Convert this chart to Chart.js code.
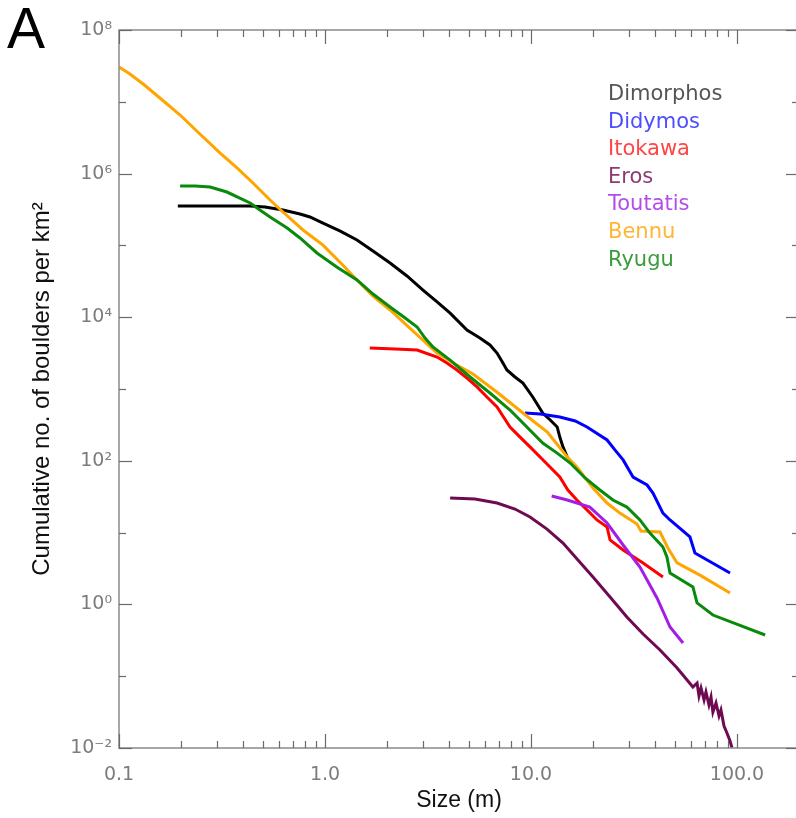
<!DOCTYPE html>
<html>
<head>
<meta charset="utf-8">
<script src="https://cdn.jsdelivr.net/npm/chart.js@4.4.1/dist/chart.umd.min.js"></script>
<style>
    html, body { margin: 0; padding: 0; background: #fff; overflow: hidden; }
    #wrap { position: absolute; left: 0; top: 0; width: 804px; height: 818px; }
    #panel { position: absolute; left: 7px; top: 0; font: 57px/57px "Liberation Sans", Arial, sans-serif; color: #000; }
</style>
</head>
<body>
<div id="wrap">
    <canvas id="sfdChart" width="804" height="818"></canvas>
    <div id="panel">A</div>
</div>
<script>
// boulder size (m) vs cumulative number per km^2
const dimorphosSize  = [0.193, 0.433, 0.512, 0.625, 0.756, 0.845, 0.978, 1.18, 1.43, 1.71, 2.07, 2.50, 2.99, 3.50, 4.05, 4.89,
                        5.65, 6.32, 6.84, 7.31, 7.64, 8.36, 9.14, 10.2, 11.4, 12.4, 13.4, 13.8, 14.3, 15.0];
const dimorphosCount = [3.54e5, 3.54e5, 3.43e5, 3.11e5, 2.74e5, 2.49e5, 2.05e5, 1.59e5, 1.19e5, 8.36e4, 5.69e4, 3.75e4, 2.39e4, 1.63e4, 1.14e4, 6.63e3,
                        5.13e3, 4.10e3, 3.17e3, 2.30e3, 1.84e3, 1.47e3, 1.21e3, 774, 463, 370, 296, 214, 156, 113];

const didymosSize  = [9.35, 11.1, 13.8, 16.4, 18.7, 23.4, 25.6, 28.0, 31.3, 36.6, 39.1, 43.7, 47.3, 59.1, 62.5, 92.5];
const didymosCount = [463, 449, 407, 358, 296, 195, 141, 103, 59.4, 46.0, 35.6, 18.7, 15.0, 8.69, 5.20, 2.74];

const itokawaSize  = [1.65, 2.19, 2.80, 3.50, 3.91, 4.37, 4.89, 5.47, 6.11, 6.84, 7.91, 8.85, 9.89, 11.7, 13.8, 15.1,
                      16.7, 18.7, 20.9, 23.4, 24.2, 28.0, 35.0, 43.7];
const itokawaCount = [3.72e3, 3.61e3, 3.49e3, 2.79e3, 2.30e3, 1.84e3, 1.42e3, 1.07e3, 774, 561, 296, 214, 156, 96.2, 59.4, 39.2,
                      28.4, 20.7, 15.0, 12.0, 7.89, 5.73, 3.78, 2.41];

const erosSize  = [4.05, 5.35, 6.84, 8.36, 9.89, 11.96, 14.3, 16.9, 20.0, 24.2, 29.2, 35.0, 42.3, 51.2, 61.1,
                   64.0, 65.4, 66.9, 69.2, 70.7, 73.1, 74.8, 76.4, 79.1, 81.8, 83.6, 86.5, 89.4, 92.5, 94.6];
const erosCount = [30.3, 29.4, 25.8, 21.3, 16.5, 11.2, 7.16, 4.15, 2.41, 1.27, 0.668, 0.387, 0.232, 0.130, 0.0708,
                   0.0804, 0.0530, 0.0685, 0.0467, 0.0603, 0.0397, 0.0513, 0.0317, 0.0424, 0.0279, 0.0338, 0.0202, 0.0162, 0.0125, 0.0100];

const toutatisSize  = [12.6, 15.0, 19.3, 23.4, 28.0, 33.8, 40.9, 47.3, 54.7];
const toutatisCount = [32.4, 28.4, 22.7, 13.6, 6.72, 3.32, 1.23, 0.484, 0.290];

const bennuSize  = [0.100, 0.113, 0.131, 0.158, 0.198, 0.247, 0.309, 0.374, 0.447, 0.541, 0.625, 0.782, 0.978, 1.18, 1.43, 1.71,
                    2.07, 2.67, 3.50, 4.28, 5.23, 6.92, 9.14, 12.0, 15.0, 16.7, 20.0, 23.4, 27.0, 32.7, 34.2, 42.3,
                    46.2, 51.2, 66.1, 92.5];
const bennuCount = [3.05e7, 2.44e7, 1.77e7, 1.13e7, 6.55e6, 3.56e6, 1.94e6, 1.20e6, 7.40e5, 4.29e5, 2.92e5, 1.64e5, 1.01e5, 5.87e4, 3.30e4, 1.97e4,
                    1.26e4, 6.43e3, 3.17e3, 2.23e3, 1.62e3, 880, 463, 252, 113, 82.0, 41.8, 25.8, 18.7, 13.2, 10.5, 10.2,
                    6.11, 3.78, 2.56, 1.44];

const ryuguSize  = [0.198, 0.234, 0.277, 0.334, 0.386, 0.433, 0.483, 0.541, 0.655, 0.756, 0.914, 1.14, 1.43, 1.71, 2.07, 2.45,
                    2.80, 3.06, 3.34, 4.05, 5.06, 6.32, 7.91, 9.14, 11.4, 13.4, 15.5, 18.3, 21.6, 25.0, 29.2, 33.8,
                    37.8, 43.7, 45.7, 47.3, 61.1, 64.0, 76.4, 137];
const ryuguCount = [6.72e5, 6.72e5, 6.51e5, 5.54e5, 4.57e5, 3.90e5, 3.11e5, 2.49e5, 1.75e5, 1.27e5, 7.84e4, 5.00e4, 3.30e4, 2.10e4, 1.39e4, 9.75e3,
                    7.31e3, 5.13e3, 3.85e3, 2.53e3, 1.47e3, 880, 510, 336, 177, 128, 93.1, 57.6, 39.2, 28.4, 22.7, 15.0,
                    9.86, 6.30, 4.57, 2.74, 1.75, 1.05, 0.711, 0.375];

const bodyNames   = ['Dimorphos', 'Didymos', 'Itokawa', 'Eros', 'Toutatis', 'Bennu', 'Ryugu'];
const lineColors  = ['#000000', '#0000ff', '#ff0000', '#6e0a52', '#a21ee6', '#ffa500', '#0a8a0a'];
const labelColors = ['#555555', '#4d4dff', '#ff4545', '#8c3c74', '#b44cea', '#ffb634', '#3c9c3c'];

// axis ticks
const xMajorTicks  = [0.1, 1, 10, 100];
const xTickLabels  = ['0.1', '1.0', '10.0', '100.0'];
const xMinorTicks  = [0.2, 0.3, 0.4, 0.5, 0.6, 0.7, 0.8, 0.9, 2, 3, 4, 5, 6, 7, 8, 9,
                      20, 30, 40, 50, 60, 70, 80, 90, 200];
const yTickValues  = [1e-2, 1e-1, 1e0, 1e1, 1e2, 1e3, 1e4, 1e5, 1e6, 1e7, 1e8];
const yTickLabels  = ['10⁻²', '', '10⁰', '', '10²', '', '10⁴', '', '10⁶', '', '10⁸'];

const sizes  = [dimorphosSize, didymosSize, itokawaSize, erosSize, toutatisSize, bennuSize, ryuguSize];
const counts = [dimorphosCount, didymosCount, itokawaCount, erosCount, toutatisCount, bennuCount, ryuguCount];

const datasets = bodyNames.map((name, k) => ({
    label: name,
    data: sizes[k].map((s, i) => ({ x: s, y: counts[k][i] })),
    showLine: true,
    borderColor: lineColors[k],
    backgroundColor: lineColors[k],
    borderWidth: 3,
    pointRadius: 0,
    tension: 0,
    order: bodyNames.length - k
}));

// frame, inward tick marks and the coloured name list
const framePlugin = {
    id: 'frame',
    afterDraw(chart) {
        const ctx = chart.ctx;
        const a = chart.chartArea;
        const xs = chart.scales.x, ys = chart.scales.y;
        ctx.save();
        ctx.strokeStyle = '#8a8a8a';
        ctx.lineWidth = 1.5;
        ctx.strokeRect(a.left, a.top, a.right - a.left, a.bottom - a.top);

        ctx.strokeStyle = '#6a6a6a';
        ctx.lineWidth = 1.2;
        const tick = (x1, y1, x2, y2) => {
            ctx.beginPath(); ctx.moveTo(x1, y1); ctx.lineTo(x2, y2); ctx.stroke();
        };
        xMajorTicks.forEach(v => {
            const px = Math.round(xs.getPixelForValue(v)) + 0.5;
            tick(px, a.bottom, px, a.bottom - 14);
            tick(px, a.top, px, a.top + 14);
        });
        xMinorTicks.forEach(v => {
            const px = Math.round(xs.getPixelForValue(v)) + 0.5;
            tick(px, a.bottom, px, a.bottom - 7);
            tick(px, a.top, px, a.top + 7);
        });
        yTickValues.forEach((v, i) => {
            const py = Math.round(ys.getPixelForValue(v)) + 0.5;
            const len = yTickLabels[i] ? 13 : 7;
            tick(a.left, py, a.left + len, py);
            tick(a.right, py, a.right - len, py);
        });

        ctx.font = '21px "DejaVu Sans", sans-serif';
        ctx.textAlign = 'left';
        ctx.textBaseline = 'alphabetic';
        chart.data.datasets.forEach((ds, k) => {
            ctx.fillStyle = labelColors[k];
            ctx.fillText(ds.label, 608, 100 + k * 27.6);
        });
        ctx.restore();
    }
};

new Chart(document.getElementById('sfdChart'), {
    type: 'scatter',
    data: { datasets: datasets },
    plugins: [framePlugin],
    options: {
        responsive: false,
        animation: false,
        devicePixelRatio: 1,
        layout: { padding: { left: 0, right: 5, top: 30, bottom: 0 } },
        plugins: {
            legend: { display: false },
            tooltip: { enabled: false }
        },
        scales: {
            x: {
                type: 'logarithmic',
                position: 'bottom',
                min: 0.1,
                max: 200,
                afterBuildTicks: s => { s.ticks = xMajorTicks.map(v => ({ value: v })); },
                afterFit: s => { s.height = 70; },
                grid: { display: false, drawTicks: false },
                border: { display: false },
                ticks: {
                    autoSkip: false,
                    maxRotation: 0,
                    padding: 16,
                    color: '#7c7c7c',
                    font: { family: 'DejaVu Sans', size: 19 },
                    callback: (v, i) => xTickLabels[i]
                },
                title: {
                    display: true,
                    text: 'Size (m)',
                    color: '#111',
                    font: { family: 'Liberation Sans', size: 23 },
                    padding: { top: 0, bottom: 4 }
                }
            },
            y: {
                type: 'logarithmic',
                position: 'left',
                min: 1e-2,
                max: 1e8,
                afterBuildTicks: s => { s.ticks = yTickValues.map(v => ({ value: v })); },
                afterFit: s => { s.width = 119; },
                grid: { display: false, drawTicks: false },
                border: { display: false },
                ticks: {
                    autoSkip: false,
                    padding: 7,
                    color: '#7c7c7c',
                    font: { family: 'DejaVu Sans', size: 19 },
                    callback: (v, i) => yTickLabels[i]
                },
                title: {
                    display: true,
                    text: 'Cumulative no. of boulders per km²',
                    color: '#111',
                    font: { family: 'Liberation Sans', size: 24 },
                    padding: { top: 28, bottom: 0 }
                }
            }
        }
    }
});
</script>
</body>
</html>
